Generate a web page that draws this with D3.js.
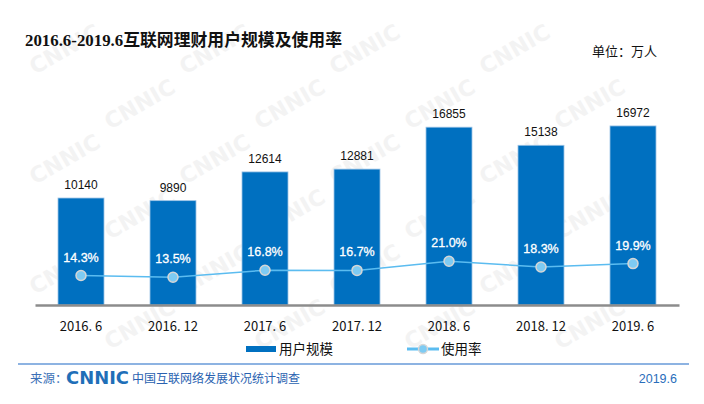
<!DOCTYPE html>
<html><head><meta charset="utf-8">
<script src="https://cdn.jsdelivr.net/npm/d3@7"></script>
<style>
body{margin:0;background:#fff;}
svg{display:block;}
</style></head>
<body><svg id="c" width="704" height="404"></svg>
<script>
const categories = ["2016. 6","2016. 12","2017. 6","2017. 12","2018. 6","2018. 12","2019. 6"];
const users = [10140, 9890, 12614, 12881, 16855, 15138, 16972];
const rate = [14.3, 13.5, 16.8, 16.7, 21.0, 18.3, 19.9];
const rateLabels = ["14.3%","13.5%","16.8%","16.7%","21.0%","18.3%","19.9%"];
const title = "2016.6-2019.6互联网理财用户规模及使用率";
const unit = "单位：万人";
const legendNames = ["用户规模","使用率"];

const svg = d3.select("#c");
const cjk = "'Microsoft YaHei','Noto Sans CJK SC',sans-serif";

// watermark (only copies that lie fully inside the picture)
const wm = svg.append("g").attr("fill","#f3f3f3").attr("font-family","'DejaVu Sans',sans-serif")
  .attr("font-weight","bold").attr("font-size",22);
for (let r=0;r<9;r++){
  for (let c=0;c<7;c++){
    const x = c*150 + (r%2)*75 - 40;
    const y = r*55 + 20;
    if (x < 4 || x + 75 > 700 || y - 42 < 4 || y + 8 > 400) continue;
    wm.append("text").attr("transform",`translate(${x},${y}) rotate(-30)`).text("CNNIC");
  }
}

const x = d3.scaleBand().domain(categories).range([35,679]).paddingInner(0.5).paddingOuter(0.25);
const y = d3.scaleLinear().domain([0,20000]).range([305,94]);
const y2 = d3.scaleLinear().domain([0,100]).range([306,93]);

// title
svg.append("text").attr("x",25).attr("y",46).attr("font-size",17).attr("font-weight",600)
  .attr("font-family","'Liberation Serif','Noto Sans CJK SC',serif").attr("fill","#111")
  .attr("textLength",317).attr("lengthAdjust","spacingAndGlyphs")
  .text(title);
svg.append("text").attr("x",592).attr("y",56).attr("font-size",13).attr("font-family",cjk).attr("fill","#111").text(unit);

// bars
svg.append("g").selectAll("rect").data(users).join("rect")
  .attr("x",(d,i)=>x(categories[i])).attr("width",x.bandwidth())
  .attr("y",d=>y(d)).attr("height",d=>y(0)-y(d))
  .attr("fill","#0070c0").attr("stroke","#9cc3e6").attr("stroke-width",0.8);

svg.append("g").selectAll("text").data(users).join("text")
  .attr("x",(d,i)=>x(categories[i])+x.bandwidth()/2).attr("y",d=>y(d)-9)
  .attr("text-anchor","middle").attr("font-size",12).attr("font-family","'Liberation Sans',Arial,sans-serif")
  .attr("fill","#111").text(d=>d);

// axis
const xAxis = d3.axisBottom(x).tickSize(0).tickPadding(17);
const ax = svg.append("g").attr("transform","translate(0,305)").call(xAxis);
ax.select(".domain").attr("stroke","#8c8c8c").attr("stroke-width",2.5);
ax.selectAll("text").attr("font-size",13).attr("font-family",cjk).attr("fill","#111");

// line
const line = d3.line().x((d,i)=>x(categories[i])+x.bandwidth()/2).y(d=>y2(d));
svg.append("path").datum(rate).attr("d",line).attr("fill","none").attr("stroke","#5bbcf0").attr("stroke-width",1.5);
svg.append("g").selectAll("circle").data(rate).join("circle")
  .attr("cx",(d,i)=>x(categories[i])+x.bandwidth()/2).attr("cy",d=>y2(d)).attr("r",5)
  .attr("fill","#7ecbf3").attr("stroke","#d6d6d6").attr("stroke-width",1.5);
svg.append("g").selectAll("text").data(rate).join("text")
  .attr("x",(d,i)=>x(categories[i])+x.bandwidth()/2).attr("y",d=>y2(d)-14)
  .attr("text-anchor","middle").attr("font-size",12.5).attr("font-family","'Liberation Sans',Arial,sans-serif")
  .attr("fill","#fff").attr("stroke","#fff").attr("stroke-width",0.3).text((d,i)=>rateLabels[i]);

// legend
svg.append("rect").attr("x",246).attr("y",346).attr("width",30).attr("height",6).attr("fill","#0070c0");
svg.append("text").attr("x",279).attr("y",354).attr("font-size",13.5).attr("font-family",cjk).attr("fill","#111").text(legendNames[0]);
svg.append("line").attr("x1",407).attr("x2",439).attr("y1",349).attr("y2",349).attr("stroke","#5bbcf0").attr("stroke-width",3);
svg.append("circle").attr("cx",423).attr("cy",349).attr("r",4.5).attr("fill","#7ecbf3").attr("stroke","#d6d6d6").attr("stroke-width",1.5);
svg.append("text").attr("x",441).attr("y",354).attr("font-size",13.5).attr("font-family",cjk).attr("fill","#111").text(legendNames[1]);

// footer
svg.append("line").attr("x1",18).attr("x2",689).attr("y1",364).attr("y2",364).attr("stroke","#8db3e2").attr("stroke-width",2);
svg.append("text").attr("x",30).attr("y",383).attr("font-size",12.5).attr("font-family",cjk).attr("fill","#3a6fb6").text("来源：");
svg.append("text").attr("x",66).attr("y",384).attr("font-size",18).attr("font-weight","bold").attr("font-family","'DejaVu Sans',sans-serif")
  .attr("fill","#1f6fb8").attr("textLength",63).attr("lengthAdjust","spacingAndGlyphs").text("CNNIC");
svg.append("text").attr("x",132).attr("y",383).attr("font-size",12).attr("font-family",cjk).attr("fill","#2a62b0").text("中国互联网络发展状况统计调查");
svg.append("text").attr("x",677).attr("y",383).attr("text-anchor","end").attr("font-size",12.5).attr("font-family","'Liberation Sans',Arial,sans-serif").attr("fill","#2a6ebb").text("2019.6");
</script></body></html>
